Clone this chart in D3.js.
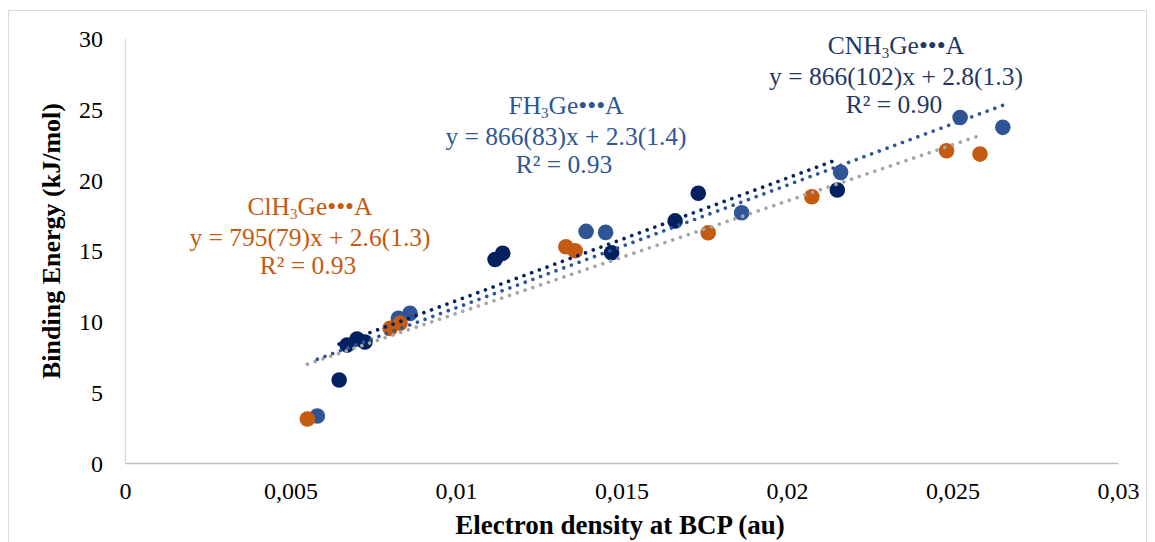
<!DOCTYPE html>
<html>
<head>
<meta charset="utf-8">
<script src="https://cdn.jsdelivr.net/npm/d3@7"></script>
<style>
  body { margin: 0; background: #fff; }
  text { font-family: "Liberation Serif", "Times New Roman", serif; }
</style>
</head>
<body>
<svg id="chart" width="1155" height="542"></svg>
<script>
var width = 1155, height = 542

// electron density (au) / binding energy (kJ/mol) per series
var fhX  = [0.00581, 0.00826, 0.00861, 0.01393, 0.01452, 0.01863, 0.02162, 0.02523, 0.02652]
var fhY  = [3.32, 10.22, 10.57, 16.36, 16.29, 17.68, 20.53, 24.41, 23.71]
var cnX  = [0.00647, 0.00671, 0.00701, 0.00725, 0.01118, 0.01141, 0.0147, 0.01662, 0.01732, 0.02152]
var cnY  = [5.86, 8.33, 8.76, 8.55, 14.37, 14.81, 14.85, 17.1, 19.05, 19.28]
var clX  = [0.00551, 0.00801, 0.00831, 0.01332, 0.0136, 0.01762, 0.02075, 0.02482, 0.02583]
var clY  = [3.11, 9.51, 9.87, 15.28, 14.99, 16.26, 18.81, 22.06, 21.82]

var seriesNames = ["FH3Ge", "CNH3Ge", "ClH3Ge"]
var slopes = [866, 866, 795]
var intercepts = [2.3, 2.8, 2.6]
var equations = ["y = 866(83)x + 2.3(1.4)", "y = 866(102)x + 2.8(1.3)", "y = 795(79)x + 2.6(1.3)"]
var r2 = ["R² = 0.93", "R² = 0.90", "R² = 0.93"]

var xTicks = [0, 0.005, 0.01, 0.015, 0.02, 0.025, 0.03]
var xTickLabels = ["0", "0,005", "0,01", "0,015", "0,02", "0,025", "0,03"]
var yTicks = [0, 5, 10, 15, 20, 25, 30]

var dotColors = ["#2f5597", "#002060", "#c55a11"]
var lineColors = ["#2f5597", "#002060", "#a5a5a5"]

var serif = "'Liberation Serif', 'Times New Roman', serif"
var svg = d3.select("#chart")

var x = d3.scaleLinear().domain([0, 0.03]).range([125, 1118])
var y = d3.scaleLinear().domain([0, 30]).range([463, 38.3])

// outer frame
svg.append("rect")
  .attr("x", 8.5).attr("y", 10.5)
  .attr("width", 1138).attr("height", 540)
  .attr("fill", "none").attr("stroke", "#d9d9d9")

// axes
var yAxis = svg.append("g")
  .attr("transform", "translate(125,0)")
  .call(d3.axisLeft(y).tickValues(yTicks).tickSize(0).tickPadding(22))
yAxis.attr("font-family", serif).attr("font-size", 24)
yAxis.select(".domain").attr("stroke", "#d9d9d9").attr("stroke-width", 1.3)
yAxis.selectAll("text").attr("fill", "#000").attr("dy", "0.34em")

var xAxis = svg.append("g")
  .attr("transform", "translate(0,463)")
  .call(d3.axisBottom(x).tickValues(xTicks).tickSize(0).tickPadding(19)
    .tickFormat((d, i) => xTickLabels[i]))
xAxis.attr("font-family", serif).attr("font-size", 24)
xAxis.select(".domain").attr("stroke", "#bfbfbf").attr("stroke-width", 1.3)
xAxis.selectAll("text").attr("fill", "#000")

svg.append("text")
  .attr("x", 620).attr("y", 534)
  .attr("text-anchor", "middle")
  .style("font-size", "27px").style("font-weight", "bold")
  .text("Electron density at BCP (au)")

svg.append("text")
  .attr("transform", "translate(60,241) rotate(-90)")
  .attr("text-anchor", "middle")
  .style("font-size", "26px").style("font-weight", "bold")
  .text("Binding Energy (kJ/mol)")

// points
var allX = [fhX, cnX, clX], allY = [fhY, cnY, clY]
allX.forEach((xs, s) => {
  svg.append("g").selectAll("circle")
    .data(xs.map((v, i) => [v, allY[s][i]]))
    .enter().append("circle")
    .attr("cx", d => x(d[0]))
    .attr("cy", d => y(d[1]))
    .attr("r", 7.8)
    .attr("fill", dotColors[s])
})

// trendlines, drawn on top, spanning each series' x range
var order = [2, 0, 1]
order.forEach(s => {
  var ext = d3.extent(allX[s])
  svg.append("line")
    .attr("x1", x(ext[0])).attr("y1", y(slopes[s] * ext[0] + intercepts[s]))
    .attr("x2", x(ext[1])).attr("y2", y(slopes[s] * ext[1] + intercepts[s]))
    .attr("stroke", lineColors[s])
    .attr("stroke-width", 3.6)
    .attr("stroke-linecap", "round")
    .attr("stroke-dasharray", "0.01 8.2")
})

// equation labels
var labelPos = [[566, 116], [896, 56], [310, 217]]
var labelColor = ["#2f5597", "#1f3864", "#c55a11"]
seriesNames.forEach((name, s) => {
  var g = svg.append("g").attr("fill", labelColor[s]).style("font-size", "25.5px")
  var t = g.append("text")
    .attr("x", labelPos[s][0]).attr("y", labelPos[s][1] - 2)
    .attr("text-anchor", "middle")
  var parts = name.split("3")
  t.append("tspan").text(parts[0])
  t.append("tspan").attr("dy", 4).style("font-size", "15px").text("3")
  t.append("tspan").attr("dy", -4).text(parts[1] + "•••A")
  g.append("text")
    .attr("x", labelPos[s][0]).attr("y", labelPos[s][1] + 28.5)
    .attr("text-anchor", "middle").text(equations[s])
  g.append("text")
    .attr("x", labelPos[s][0] - 2).attr("y", labelPos[s][1] + 57)
    .attr("text-anchor", "middle").text(r2[s])
})
</script>
</body>
</html>
